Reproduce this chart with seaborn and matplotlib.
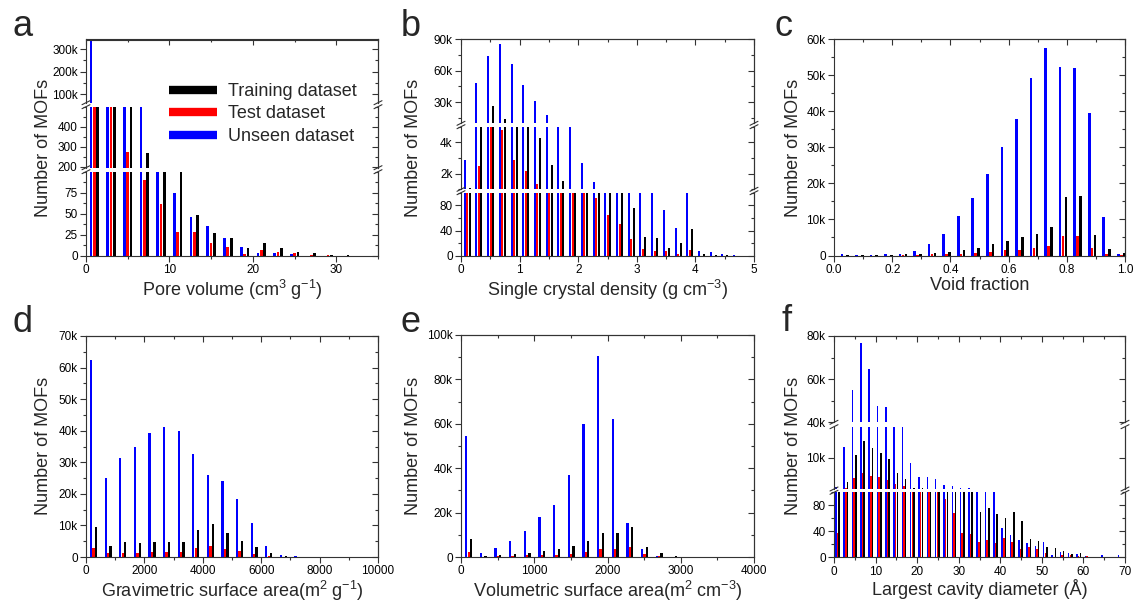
import numpy as np
import pandas as pd
import matplotlib
matplotlib.use('Agg')
import matplotlib.pyplot as plt
from matplotlib.lines import Line2D
from matplotlib.ticker import FuncFormatter, AutoMinorLocator, MultipleLocator, FixedLocator
import seaborn as sns

W, H = 1138, 604
SPINE = '#333333'

HUE_ORDER = ['Unseen dataset', 'Test dataset', 'Training dataset']
PALETTE = {'Unseen dataset': '#0000ff', 'Test dataset': '#ff0000', 'Training dataset': '#000000'}

# --- a: pore volume (bin width 2) ---
pv_bins = np.arange(1, 33, 2)
pv_unseen = [335000, 20000, 5000, 1000, 150, 75, 46, 35, 21, 11, 3, 4, 2, 0, 0, 0]
pv_test = [8000, 3000, 275, 90, 62, 28, 28, 15, 11, 2, 7, 5, 4, 1, 1, 0]
pv_train = [25000, 6000, 1200, 270, 150, 150, 49, 27, 21, 10, 15, 9, 5, 3, 1, 1]

# --- b: single crystal density (bin width 0.2) ---
den_bins = np.arange(0.1, 4.8, 0.2)
den_unseen = [2900, 48000, 74000, 85000, 66000, 46000, 31000, 18000, 8000, 8000, 2700, 1450,
              700, 600, 400, 300, 200, 72, 44, 150, 8, 6, 3, 1]
den_test = [500, 2500, 7000, 4800, 2850, 2200, 1350, 800, 600, 400, 300, 92,
            65, 50, 27, 10, 7, 7, 3, 9, 0, 0, 0, 0]
den_train = [1100, 7000, 26000, 14000, 8000, 8000, 4300, 2550, 1500, 700, 500, 300,
             250, 200, 75, 30, 28, 12, 20, 43, 2, 1, 1, 0]

# --- c: void fraction (bin width 0.05) ---
vf_bins = np.arange(0.025, 1.0, 0.05)
vf_unseen = [300, 200, 200, 300, 500, 1300, 3200, 6000, 11000, 16000, 22700, 30000,
             37800, 49200, 57500, 52300, 51900, 39500, 10800, 500]
vf_test = [0, 0, 0, 0, 100, 200, 300, 400, 500, 700, 1100, 1400,
           1600, 2000, 2700, 5300, 5500, 2000, 500, 200]
vf_train = [100, 100, 200, 200, 300, 500, 600, 1000, 1500, 2200, 3100, 4100,
            5200, 6000, 8000, 16300, 16600, 5700, 1700, 700]

# --- d: gravimetric surface area (bin width 500) ---
ga_bins = np.arange(250, 10000, 500)
ga_unseen = [62400, 25000, 31500, 35000, 39200, 41300, 40000, 32700, 26000, 24000,
             18300, 10800, 3600, 700, 200, 100, 100, 50, 0, 0]
ga_test = [3000, 1200, 1400, 1400, 1600, 1600, 1600, 2900, 3500, 2400,
           1800, 1100, 400, 100, 0, 0, 0, 0, 0, 0]
ga_train = [9600, 3600, 4600, 4500, 4800, 4800, 4800, 8400, 10400, 7700,
            5200, 3200, 1300, 300, 100, 50, 50, 50, 0, 0]

# --- e: volumetric surface area (bin width 200) ---
va_bins = np.arange(100, 4000, 200)
va_unseen = [54500, 2000, 4200, 7000, 11800, 18200, 23500, 37000, 60000, 90700,
             62300, 15500, 3800, 500, 100, 0, 0, 0, 0, 0]
va_test = [2400, 200, 300, 600, 800, 1000, 1100, 1500, 2300, 3600,
           3800, 4500, 1500, 600, 200, 0, 0, 0, 0, 0]
va_train = [7900, 600, 1000, 1300, 1800, 2700, 3500, 5000, 7200, 11000,
            11000, 13600, 4600, 2000, 500, 100, 50, 0, 0, 0]

# --- f: largest cavity diameter (bin width 2) ---
lcd_bins = np.arange(1, 70, 2)
lcd_unseen = [1500, 13000, 55000, 76600, 64600, 47600, 47000, 30000, 25000, 8400,
              4400, 4400, 3800, 2200, 1900, 1400, 1200, 500, 500, 300,
              45, 34, 27, 22, 18, 24, 4, 8, 6, 5, 2, 0, 3, 1, 4]
lcd_test = [37, 1400, 4100, 5500, 4800, 4400, 3600, 2400, 1900, 500,
            400, 300, 200, 89, 68, 38, 36, 24, 27, 22,
            29, 24, 13, 16, 13, 7, 0, 4, 4, 2, 2, 0, 0, 1, 0]
lcd_train = [600, 2900, 10800, 15000, 12800, 11300, 9600, 5700, 3800, 1300,
             1200, 1100, 1100, 800, 800, 600, 500, 70, 76, 67,
             61, 70, 56, 28, 25, 16, 14, 10, 5, 7, 1, 0, 0, 1, 0]


def long_df(centers, unseen, test, train):
    frames = []
    for name, vals in zip(HUE_ORDER, (unseen, test, train)):
        frames.append(pd.DataFrame({'pos': centers, 'count': vals, 'dataset': name}))
    return pd.concat(frames, ignore_index=True)


def kfmt(v, pos):
    if v >= 1000:
        return f'{v / 1000:g}k'
    return f'{v:g}'


def fig_rect(left, top, right, bottom):
    return [left / W, 1 - bottom / H, (right - left) / W, (bottom - top) / H]


def style_ticks(ax):
    ax.tick_params(axis='both', which='major', length=4, width=0.8, direction='out',
                   color=SPINE, labelsize=8.5, pad=2, labelcolor='black')
    ax.tick_params(axis='both', which='minor', length=2, width=0.8, direction='out', color=SPINE)
    for sp in ax.spines.values():
        sp.set_color(SPINE)
        sp.set_linewidth(0.8)


def break_mark(fig, x, y):
    fig.add_artist(Line2D([(x - 4) / W, (x + 4) / W], [1 - (y + 2) / H, 1 - (y - 2) / H],
                          transform=fig.transFigure, color=SPINE, lw=0.8))


def draw_panel(fig, cols, segments, df, shift, width, gap, xlim, xmajor, xlabel):
    left, right = cols
    n = len(segments)
    plot_df = df.assign(pos=df['pos'] + shift)
    axes = []
    for i, (top, bottom, ylim, yticks) in enumerate(segments):
        ax = fig.add_axes(fig_rect(left, top, right, bottom))
        sns.barplot(data=plot_df, x='pos', y='count', hue='dataset', hue_order=HUE_ORDER,
                    palette=PALETTE, native_scale=True, orient='x', width=width, gap=gap,
                    dodge=True, errorbar=None, saturation=1, linewidth=0, legend=False, ax=ax)
        ax.set_xlim(xlim)
        ax.set_ylim(ylim)
        ax.set_xlabel('')
        ax.set_ylabel('')
        ax.yaxis.set_major_locator(FixedLocator(yticks))
        if len(yticks) > 1:
            ax.yaxis.set_minor_locator(AutoMinorLocator(2))
        ax.yaxis.set_major_formatter(FuncFormatter(kfmt))
        ax.xaxis.set_major_locator(MultipleLocator(xmajor))
        ax.xaxis.set_minor_locator(AutoMinorLocator(2))
        ax.xaxis.set_major_formatter(FuncFormatter(lambda v, p: f'{v:g}' if xmajor >= 1 else f'{v:.1f}'))
        style_ticks(ax)

        # mirrored inward ticks on the right (and top for the first segment)
        secy = ax.secondary_yaxis('right')
        secy.yaxis.set_major_locator(FixedLocator(yticks))
        if len(yticks) > 1:
            secy.yaxis.set_minor_locator(AutoMinorLocator(2))
        secy.tick_params(which='major', direction='in', length=4, width=0.8, color=SPINE, labelright=False)
        secy.tick_params(which='minor', direction='in', length=2, width=0.8, color=SPINE)
        secy.spines['right'].set_color(SPINE)
        secy.spines['right'].set_linewidth(0.8)

        if i == 0:
            secx = ax.secondary_xaxis('top')
            secx.xaxis.set_major_locator(MultipleLocator(xmajor))
            secx.xaxis.set_minor_locator(AutoMinorLocator(2))
            secx.tick_params(which='major', direction='in', length=4, width=0.8, color=SPINE, labeltop=False)
            secx.tick_params(which='minor', direction='in', length=2, width=0.8, color=SPINE)
            secx.spines['top'].set_color(SPINE)
            secx.spines['top'].set_linewidth(0.8)
        else:
            ax.spines['top'].set_visible(False)
        if i < n - 1:
            ax.spines['bottom'].set_visible(False)
            ax.tick_params(axis='x', which='both', bottom=False, labelbottom=False)
        axes.append(ax)

    for i in range(n - 1):
        for x in (left, right):
            break_mark(fig, x, segments[i][1])
            break_mark(fig, x, segments[i + 1][0])

    axes[-1].set_xlabel(xlabel, fontsize=13, labelpad=1)
    return axes


sns.set_style('ticks')
plt.rcParams['font.family'] = ['Liberation Sans', 'DejaVu Sans']
plt.rcParams['mathtext.default'] = 'regular'

fig = plt.figure(figsize=(W / 100, H / 100), dpi=100)

COL_A = (86, 378)
COL_B = (461, 754)
COL_C = (834, 1125)

draw_panel(fig, COL_A,
           [(39.5, 102.7, (63000, 342000), [100000, 200000, 300000]),
            (106.7, 167.7, (195, 500), [200, 300, 400]),
            (171.7, 256, (0, 100), [0, 25, 50, 75])],
           long_df(pv_bins, pv_unseen, pv_test, pv_train), 0.0, 0.6, 0.2,
           (0, 35), 10, r'Pore volume (cm$^3$ g$^{-1}$)')

draw_panel(fig, COL_B,
           [(39, 123.3, (10000, 90000), [30000, 60000, 90000]),
            (126.7, 189.3, (1000, 5000), [2000, 4000]),
            (192.7, 255.7, (0, 100), [0, 40, 80])],
           long_df(den_bins, den_unseen, den_test, den_train), 0.005, 0.64, 0.2,
           (0, 5), 1, r'Single crystal density (g cm$^{-3}$)')

draw_panel(fig, COL_C,
           [(39, 255.5, (0, 60000), [0, 10000, 20000, 30000, 40000, 50000, 60000])],
           long_df(vf_bins, vf_unseen, vf_test, vf_train), 0.012, 0.6, 0.1,
           (0, 1.0), 0.2, 'Void fraction')

draw_panel(fig, COL_A,
           [(336, 557, (0, 70000), [0, 10000, 20000, 30000, 40000, 50000, 60000, 70000])],
           long_df(ga_bins, ga_unseen, ga_test, ga_train), 10, 0.51, 0.05,
           (0, 10000), 2000, r'Gravimetric surface area(m$^2$ g$^{-1}$)')

draw_panel(fig, COL_B,
           [(335, 557, (0, 100000), [0, 20000, 40000, 60000, 80000, 100000])],
           long_df(va_bins, va_unseen, va_test, va_train), 4, 0.48, 0.05,
           (0, 4000), 1000, r'Volumetric surface area(m$^2$ cm$^{-3}$)')

draw_panel(fig, COL_C,
           [(336, 422.3, (40000, 80000), [40000, 60000, 80000]),
            (426.7, 489, (1000, 19000), [10000]),
            (492.3, 557.3, (0, 100), [0, 40, 80])],
           long_df(lcd_bins, lcd_unseen, lcd_test, lcd_train), -0.15, 0.6, 0.1,
           (0, 70), 10, 'Largest cavity diameter (Å)')

# y labels
for xc, yc in [(43, 148), (413, 148), (793, 148), (43, 446), (413, 446), (793, 446)]:
    fig.text(xc / W, 1 - yc / H, 'Number of MOFs', rotation=90, ha='center', va='center', fontsize=13)

# panel letters
for letter, x, y in [('a', 12, 36), ('b', 401, 36), ('c', 775, 36),
                     ('d', 12, 332), ('e', 400, 332), ('f', 782, 331)]:
    fig.text(x / W, 1 - y / H, letter, fontsize=26, ha='left', va='baseline')

# legend (panel a)
handles = [Line2D([], [], color=PALETTE[k], lw=6, solid_capstyle='butt')
           for k in ['Training dataset', 'Test dataset', 'Unseen dataset']]
fig.legend(handles, ['Training dataset', 'Test dataset', 'Unseen dataset'],
           loc='upper left', bbox_to_anchor=(169 / W, 1 - 83 / H), frameon=False,
           fontsize=13, handlelength=2.65, handletextpad=0.6, labelspacing=0.3,
           borderpad=0, borderaxespad=0)

fig.savefig('out.png', dpi=100)
